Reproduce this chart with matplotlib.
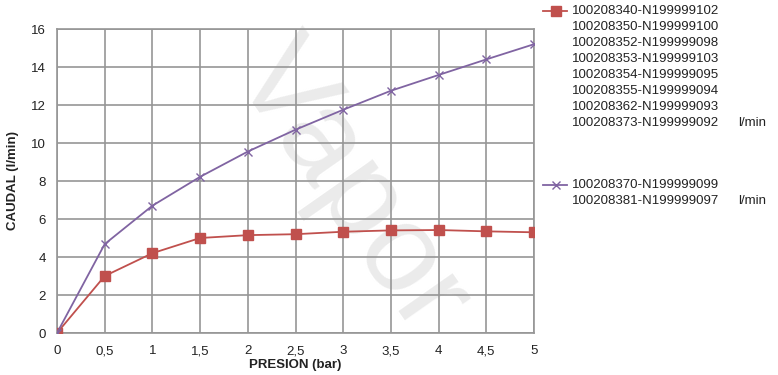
import matplotlib
matplotlib.use("Agg")
import matplotlib.pyplot as plt
from matplotlib.lines import Line2D

plt.rcParams['font.family'] = ['Liberation Sans', 'DejaVu Sans']

pressure = [0, 0.5, 1, 1.5, 2, 2.5, 3, 3.5, 4, 4.5, 5]
xtick_labels = ["0", "0,5", "1", "1,5", "2", "2,5", "3", "3,5", "4", "4,5", "5"]
flow_red = [0, 3.0, 4.2, 5.0, 5.15, 5.2, 5.33, 5.4, 5.42, 5.35, 5.3]
flow_purple = [0, 4.68, 6.7, 8.22, 9.55, 10.7, 11.75, 12.75, 13.58, 14.4, 15.2]
labels_red = ["100208340-N199999102", "100208350-N199999100", "100208352-N199999098",
              "100208353-N199999103", "100208354-N199999095", "100208355-N199999094",
              "100208362-N199999093", "100208373-N199999092"]
labels_purple = ["100208370-N199999099", "100208381-N199999097"]
unit = "l/min"

W, H = 778, 375
fig = plt.figure(figsize=(W / 100, H / 100), dpi=100)
ax = fig.add_axes([57 / W, 1 - 333 / H, (534 - 57) / W, (333 - 29) / H])
ax.set_zorder(1)
ax.patch.set_alpha(0)

# watermark (behind everything)
fig.text(0.45, 0.5, "Vapor", fontsize=90, color="#ebebeb", rotation=-55,
         ha="center", va="center", zorder=-5)

red = "#C0504D"
purple = "#8064A2"
grid = "#969696"

ax.plot(pressure, flow_red, color=red, marker="s", markersize=6.5, lw=1.3, zorder=3)
ax.plot(pressure, flow_purple, color=purple, marker="x", markersize=6, mew=1.0, lw=1.3, zorder=3)

ax.set_xlim(0, 5)
ax.set_ylim(0, 16)
ax.set_xticks(pressure)
ax.set_xticklabels(xtick_labels)
ax.set_yticks(range(0, 17, 2))
ax.grid(True, color=grid, lw=1.2)
ax.set_axisbelow(True)
for s in ax.spines.values():
    s.set_color(grid)
    s.set_linewidth(1.2)
ax.tick_params(length=0, labelsize=9.5, colors="#222222")
ax.tick_params(axis="x", pad=9)
ax.tick_params(axis="y", pad=8)
ax.set_xlabel("PRESION (bar)", fontsize=9.5, fontweight="bold", labelpad=1)
ax.set_ylabel("CAUDAL (l/min)", fontsize=9.5, fontweight="bold", labelpad=9)
ax.xaxis.label.set_color("#222222")
ax.yaxis.label.set_color("#222222")

# legend (manual)
def legend_entry(y0, color, marker, ms, lines):
    yf = 1 - y0 / H
    fig.add_artist(Line2D([543 / W, 567 / W], [yf, yf], color=color, lw=1.3,
                          transform=fig.transFigure))
    fig.add_artist(Line2D([556 / W], [yf], color=color, marker=marker, markersize=ms,
                          mew=1.0, transform=fig.transFigure))
    for i, t in enumerate(lines):
        fig.text(572 / W, 1 - (y0 + 16 * i) / H, t, fontsize=9.5, va="center",
                 ha="left", color="#222222")
    fig.text(738 / W, 1 - (y0 + 16 * (len(lines) - 1)) / H, unit, fontsize=9.5,
             va="center", ha="left", color="#222222")

legend_entry(11, red, "s", 6.5, labels_red)
legend_entry(185, purple, "x", 6, labels_purple)

fig.savefig("out.png", dpi=100)
